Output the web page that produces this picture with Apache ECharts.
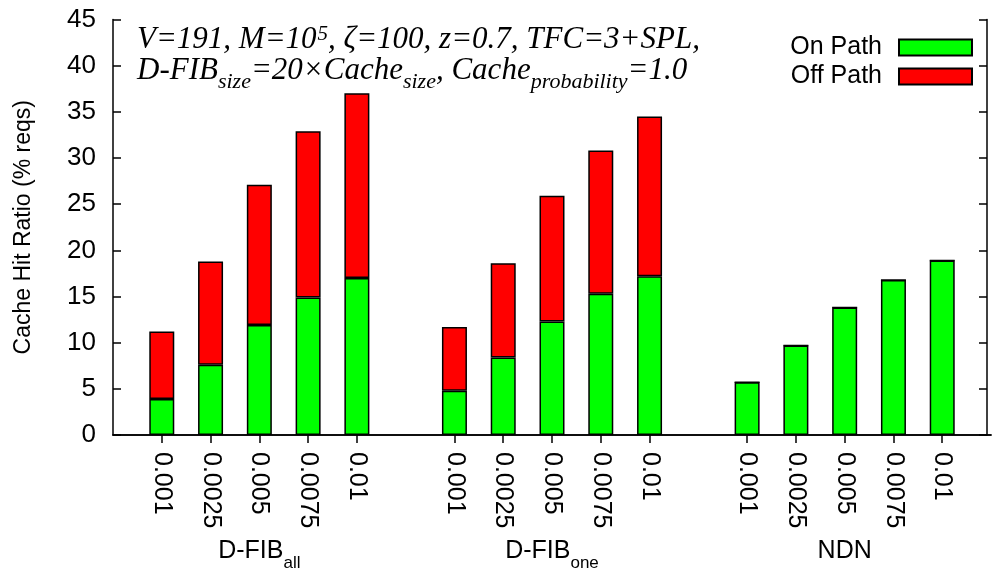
<!DOCTYPE html>
<html>
<head>
<meta charset="utf-8">
<script src="https://cdn.jsdelivr.net/npm/echarts@6/dist/echarts.min.js"></script>
<style>
  html, body { margin: 0; padding: 0; background: #fff; }
  #chart { width: 994px; height: 572px; }
</style>
</head>
<body>
<div id="chart"></div>
<script>
// Cache size ratios tested for each scheme
const ratios = ['0.001', '0.0025', '0.005', '0.0075', '0.01'];
// Schemes (underscore marks a subscript)
const schemes = ['D-FIB_all', 'D-FIB_one', 'NDN'];

// Cache hit ratio (% of requests), split by where the hit happened
const onPathDfibAll  = [3.9, 7.6, 11.9, 14.9, 17.0];
const offPathDfibAll = [7.3, 11.2, 15.2, 18.0, 20.0];
const onPathDfibOne  = [4.8, 8.4, 12.3, 15.3, 17.2];
const offPathDfibOne = [6.9, 10.2, 13.6, 15.5, 17.3];
const onPathNdn      = [5.7, 9.7, 13.8, 16.8, 18.9];
const offPathNdn     = [0, 0, 0, 0, 0];

// Y axis ticks
const yMin = 0, yMax = 45, yStep = 5;

// Build the clustered category layout: a blank slot before, between and after the groups
const categories = [''];
const groupLabels = [''];
const onPath = [null];
const offPath = [null];
const onSets = [onPathDfibAll, onPathDfibOne, onPathNdn];
const offSets = [offPathDfibAll, offPathDfibOne, offPathNdn];
schemes.forEach((name, g) => {
  ratios.forEach((r, i) => {
    categories.push(r);
    groupLabels.push(i === Math.floor(ratios.length / 2) ? name : ' ');
    onPath.push(onSets[g][i]);
    offPath.push(offSets[g][i]);
  });
  categories.push('');
  groupLabels.push('');
  onPath.push(null);
  offPath.push(null);
});

const SANS = '"Liberation Sans", Arial, sans-serif';
const SERIF = '"Liberation Serif", "Times New Roman", serif';

const tickAtBars = (idx, val) => val !== '';

const chart = echarts.init(document.getElementById('chart'), null, { renderer: 'canvas' });

const serifText = { fontFamily: SERIF, fontStyle: 'italic', fontWeight: 'normal', color: '#000' };

chart.setOption({
  animation: false,
  backgroundColor: '#fff',
  title: {
    left: 132,
    top: 19,
    text: '{i|V=191, M=10}{sup|5}{i|, ζ=100, z=0.7, TFC=3+SPL,}\n' +
          '{i|D-FIB}{sub|size}{i|=20×Cache}{sub|size}{i|, Cache}{sub|probability}{i|=1.0}',
    textStyle: {
      fontWeight: 'normal',
      rich: {
        i:   Object.assign({ fontSize: 31, lineHeight: 31 }, serifText),
        sub: Object.assign({ fontSize: 22, lineHeight: 31, verticalAlign: 'bottom', padding: [0, 0, -7, 0] }, serifText),
        sup: Object.assign({ fontSize: 21, lineHeight: 31, verticalAlign: 'top', padding: [0, 0, 0, 1] }, serifText)
      }
    }
  },
  legend: {
    right: 16,
    top: 30,
    orient: 'vertical',
    align: 'right',
    itemWidth: 73,
    itemHeight: 16,
    itemGap: 4,
    icon: 'rect',
    textStyle: { fontFamily: SANS, fontSize: 25, lineHeight: 24, color: '#000', padding: [0, 12, 0, 0] },
    data: ['On Path', 'Off Path']
  },
  grid: { left: 113, right: -7, top: 19.5, bottom: 134.5, containLabel: false },
  xAxis: [
    {
      type: 'category',
      position: 'bottom',
      data: categories,
      boundaryGap: false,
      axisLine: { show: true, lineStyle: { color: '#000', width: 1.5 } },
      axisTick: { show: true, inside: true, length: 8, interval: tickAtBars, lineStyle: { color: '#000', width: 1.5 } },
      axisLabel: {
        show: true, interval: 0, rotate: -90, margin: 17,
        fontFamily: SANS, fontSize: 25, color: '#000'
      },
      splitLine: { show: false }
    },
    {
      type: 'category',
      position: 'top',
      data: categories,
      boundaryGap: false,
      axisLine: { show: true, lineStyle: { color: '#000', width: 1.5 } },
      axisTick: { show: true, inside: true, length: 8, interval: tickAtBars, lineStyle: { color: '#000', width: 1.5 } },
      axisLabel: { show: false },
      splitLine: { show: false }
    },
    {
      type: 'category',
      position: 'bottom',
      offset: 93,
      data: groupLabels,
      boundaryGap: false,
      axisLine: { show: false },
      axisTick: { show: false },
      axisLabel: {
        show: true, interval: 0, margin: 8,
        formatter: (v) => {
          if (!v.trim()) return '';
          const parts = v.split('_');
          return parts.length > 1 ? '{m|' + parts[0] + '}{s|' + parts[1] + '}' : '{m|' + v + '}';
        },
        rich: {
          m: { fontFamily: SANS, fontSize: 25, color: '#000', lineHeight: 30 },
          s: { fontFamily: SANS, fontSize: 17, color: '#000', lineHeight: 30, verticalAlign: 'bottom', padding: [0, 0, -6, 0] }
        }
      },
      splitLine: { show: false }
    }
  ],
  yAxis: [
    {
      type: 'value',
      position: 'left',
      min: yMin, max: yMax, interval: yStep,
      name: 'Cache Hit Ratio (% reqs)',
      nameLocation: 'middle',
      nameGap: 78,
      nameTextStyle: { fontFamily: SANS, fontSize: 23, color: '#000' },
      axisLine: { show: true, lineStyle: { color: '#000', width: 1.5 } },
      axisTick: { show: true, inside: true, length: 8, lineStyle: { color: '#000', width: 1.5 } },
      axisLabel: { margin: 17, fontFamily: SANS, fontSize: 26, color: '#000' },
      splitLine: { show: false }
    },
    {
      type: 'value',
      position: 'right',
      offset: -4,
      min: yMin, max: yMax, interval: yStep,
      axisLine: { show: true, lineStyle: { color: '#000', width: 1.5 } },
      axisTick: { show: true, inside: true, length: 8, lineStyle: { color: '#000', width: 1.5 } },
      axisLabel: { show: false },
      splitLine: { show: false }
    }
  ],
  series: [
    {
      name: 'On Path',
      type: 'bar',
      stack: 'hits',
      barWidth: 25,
      data: onPath,
      itemStyle: { color: '#00ff00', borderColor: '#000', borderWidth: 1.5 }
    },
    {
      name: 'Off Path',
      type: 'bar',
      stack: 'hits',
      barWidth: 25,
      data: offPath,
      itemStyle: { color: '#ff0000', borderColor: '#000', borderWidth: 1.5 }
    }
  ]
});
</script>
</body>
</html>
